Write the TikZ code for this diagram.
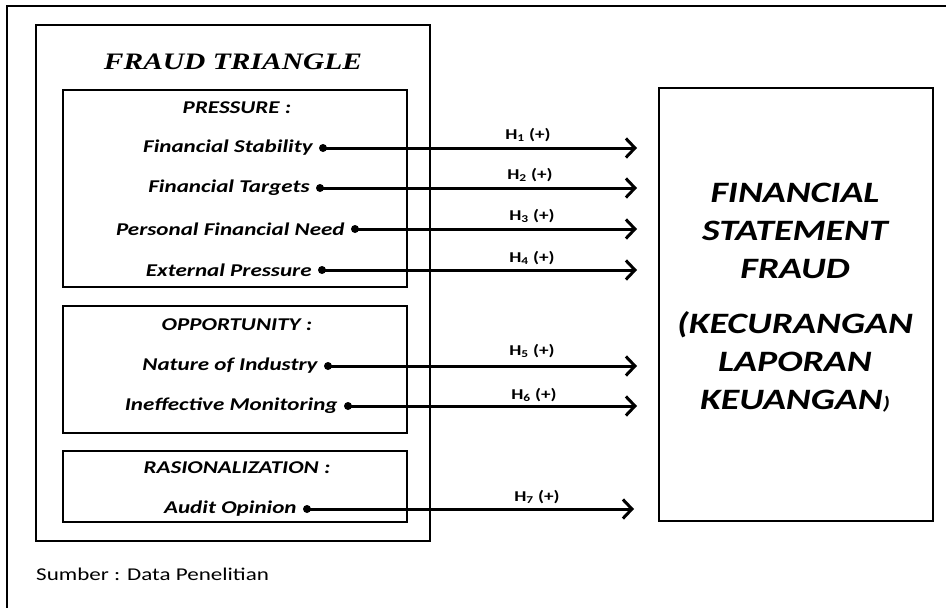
\documentclass[tikz,border=0pt]{standalone}
\usepackage{fontspec}
\setmainfont{Carlito}[FakeStretch=1.28]
\newfontfamily\titlefont{Liberation Serif}[FakeStretch=1.25]
\usetikzlibrary{arrows.meta,positioning}

\tikzset{
	box/.style={draw, line width=2.2pt},
	head/.style={font=\fontsize{18}{20}\selectfont\bfseries\itshape},
	factor/.style={font=\fontsize{18}{20}\selectfont\bfseries\itshape, inner sep=0pt},
	dot/.style={circle, fill=black, inner sep=0pt, minimum size=8pt},
	hyp/.style={-{Straight Barb[length=9pt,width=19pt]}, line width=3pt},
	hlabel/.style={font=\fontsize{15}{16}\selectfont\bfseries, inner sep=0pt}
}

\begin{document}
\begin{tikzpicture}[x=1pt, y=-1pt]
			%%%%% START %%%%%
			\useasboundingbox (0, 0) rectangle (946, 608);
			
			% outer frame (cut at right and bottom)
			\draw[line width=2pt] (7, 608) -- (7, 6) -- (946, 6);
			
			% fraud triangle
			\draw[box] (36, 25) rectangle (430, 541);
			\node (ft) at (233, 62) {\titlefont\fontsize{23.6}{25}\selectfont\bfseries\itshape FRAUD TRIANGLE};
			
			\draw[box] (63, 90) rectangle (407, 287);
			\node[head] (pr) at (237, 108) {PRESSURE :};
			
			\draw[box] (63, 306) rectangle (407, 433);
			\node[head] (op) at (237, 325) {OPPORTUNITY :};
			
			\draw[box] (63, 451) rectangle (407, 522);
			\node[head] (ra) at (237, 468) {RASIONALIZATION :};
			
			% factors
			\node[dot] (fs) at (323, 148) {};
			\node[factor, left=6pt of fs] (fs-t) {Financial Stability};
			\node[dot] (ftg) at (320, 188) {};
			\node[factor, left=6pt of ftg] (ftg-t) {Financial Targets};
			\node[dot] (pfn) at (355, 229) {};
			\node[factor, left=6pt of pfn] (pfn-t) {Personal Financial Need};
			\node[dot] (ep) at (322, 270) {};
			\node[factor, left=6pt of ep] (ep-t) {External Pressure};
			
			\node[dot] (ni) at (328, 366) {};
			\node[factor, left=6pt of ni] (ni-t) {Nature of Industry};
			\node[dot] (im) at (348, 406) {};
			\node[factor, left=6pt of im] (im-t) {Ineffective Monitoring};
			
			\node[dot] (ao) at (307, 509) {};
			\node[factor, left=6pt of ao] (ao-t) {Audit Opinion};
			
			% financial statement fraud
			\node[box, minimum width=274pt, minimum height=433pt] (fsf) at (796, 304.5) {};
			\node[align=center, font=\fontsize{29.6}{38}\selectfont\bfseries\itshape] (fsf-t) at (795, 298)
				{FINANCIAL\\STATEMENT\\FRAUD\\[17pt](KECURANGAN\\LAPORAN\\KEUANGAN{\fontsize{18}{18}\selectfont)}};
			
			% hypotheses
			\coordinate (tip) at (637, 0);
			\draw[hyp] (fs.center) -- (fs -| tip);
			\node[hlabel] (h1) at (528, 135) {H\textsubscript{1} (+)};
			\draw[hyp] (ftg.center) -- (ftg -| tip);
			\node[hlabel] (h2) at (530, 175) {H\textsubscript{2} (+)};
			\draw[hyp] (pfn.center) -- (pfn -| tip);
			\node[hlabel] (h3) at (532, 216) {H\textsubscript{3} (+)};
			\draw[hyp] (ep.center) -- (ep -| tip);
			\node[hlabel] (h4) at (532, 258) {H\textsubscript{4} (+)};
			\draw[hyp] (ni.center) -- (ni -| tip);
			\node[hlabel] (h5) at (532, 351) {H\textsubscript{5} (+)};
			\draw[hyp] (im.center) -- (im -| tip);
			\node[hlabel] (h6) at (534, 395) {H\textsubscript{6} (+)};
			\coordinate (tip7) at (634, 0);
			\draw[hyp] (ao.center) -- (ao -| tip7);
			\node[hlabel] (h7) at (537, 497) {H\textsubscript{7} (+)};
			
			\node[anchor=west, inner sep=0pt, font=\fontsize{18}{20}\selectfont] (src) at (36, 574) {Sumber : Data Penelitian};
			
			%%%%% END %%%%%
\end{tikzpicture}
\end{document}
